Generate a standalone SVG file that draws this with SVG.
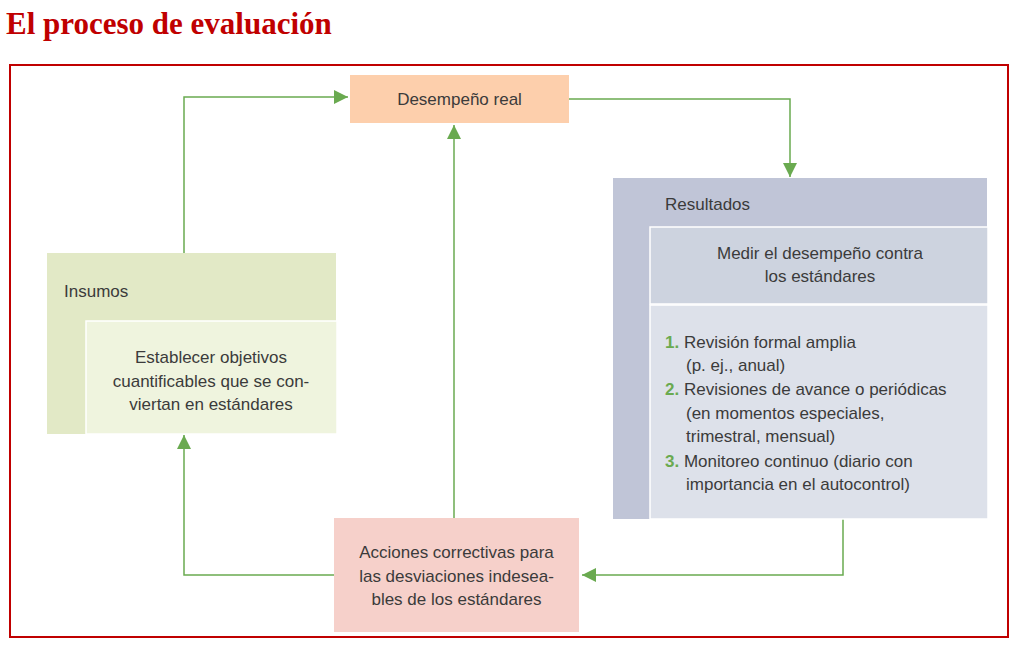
<svg xmlns="http://www.w3.org/2000/svg" width="1014" height="645" viewBox="0 0 1014 645">
<style>
.t{font-family:"Liberation Sans",Arial,sans-serif;font-size:17px;fill:#3b3b3b}
.c{text-anchor:middle}
.n{fill:#6aaa50;font-weight:bold}
.con{fill:none;stroke:#6aaa50;stroke-width:1.5}
.in{stroke:#ffffff;stroke-width:1.5}
</style>
<defs>
<marker id="ah" markerUnits="userSpaceOnUse" markerWidth="14" markerHeight="14" viewBox="0 0 12 12" refX="12" refY="6" orient="auto">
<path d="M0,0 L12,6 L0,12 z" fill="#6aaa50"/>
</marker>
</defs>
<rect width="1014" height="645" fill="#ffffff"/>
<text x="6" y="34" font-family="Liberation Serif,serif" font-weight="bold" font-size="31" fill="#c00000">El proceso de evaluación</text>
<rect x="10" y="65" width="998" height="572" fill="none" stroke="#c00000" stroke-width="2"/>

<g id="conectores">
<path class="con" d="M184,253 V97 H348" marker-end="url(#ah)"/>
<path class="con" d="M569,99 H790 V177" marker-end="url(#ah)"/>
<path class="con" d="M843,519 V575 H582" marker-end="url(#ah)"/>
<path class="con" d="M334,575 H184 V435" marker-end="url(#ah)"/>
<path class="con" d="M454,518 V125" marker-end="url(#ah)"/>
</g>

<g id="desempeno">
<rect x="350" y="75" width="219" height="48" fill="#fdcfac"/>
<text class="t c" x="459.5" y="105">Desempeño real</text>
</g>

<g id="resultados">
<rect x="613" y="178" width="374" height="341" fill="#c0c5d7"/>
<text class="t" x="665" y="210">Resultados</text>
<rect class="in" x="650" y="227" width="338" height="77" fill="#cdd3df"/>
<text class="t c" x="820" y="259">Medir el desempeño contra</text>
<text class="t c" x="820" y="282">los estándares</text>
<rect class="in" x="650" y="305" width="338" height="214" fill="#dde1ea"/>
<text class="t" x="665" y="348"><tspan class="n">1.</tspan> Revisión formal amplia</text>
<text class="t" x="686" y="371">(p. ej., anual)</text>
<text class="t" x="665" y="395"><tspan class="n">2.</tspan> Revisiones de avance o periódicas</text>
<text class="t" x="686" y="419">(en momentos especiales,</text>
<text class="t" x="686" y="442">trimestral, mensual)</text>
<text class="t" x="665" y="467"><tspan class="n">3.</tspan> Monitoreo continuo (diario con</text>
<text class="t" x="686" y="490">importancia en el autocontrol)</text>
</g>

<g id="insumos">
<rect x="47" y="253" width="289" height="181" fill="#e2e9c6"/>
<text class="t" x="64" y="297">Insumos</text>
<rect class="in" x="86" y="321" width="251" height="113" fill="#eff4de"/>
<text class="t c" x="211" y="363">Establecer objetivos</text>
<text class="t c" x="211" y="387">cuantificables que se con-</text>
<text class="t c" x="211" y="410">viertan en estándares</text>
</g>

<g id="acciones">
<rect x="334" y="518" width="245" height="114" fill="#f6d0ca"/>
<text class="t c" x="456.5" y="558">Acciones correctivas para</text>
<text class="t c" x="456.5" y="582">las desviaciones indesea-</text>
<text class="t c" x="456.5" y="605">bles de los estándares</text>
</g>
</svg>
